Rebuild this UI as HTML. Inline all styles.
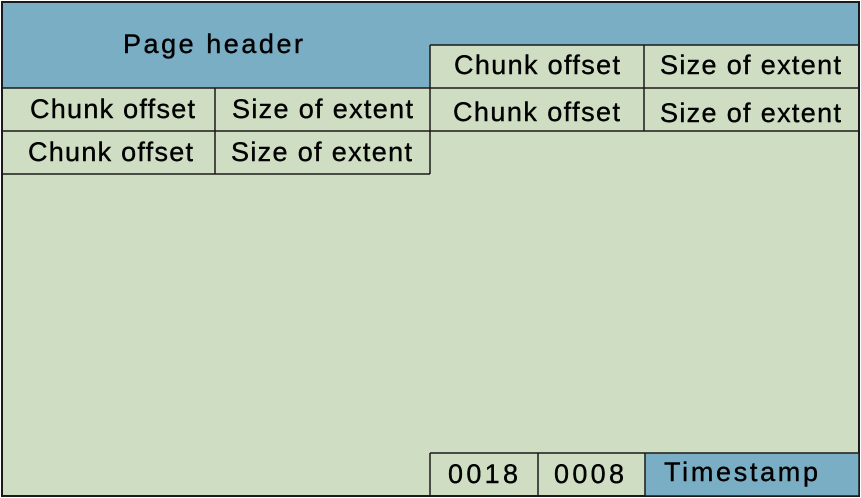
<!DOCTYPE html>
<html><head><style>
html,body{margin:0;padding:0;background:#fff;}
svg{display:block;}
text{font-family:"Liberation Sans",Arial,sans-serif;font-size:27px;fill:#000;stroke:#000;stroke-width:0.4;}
</style></head><body>
<svg width="861" height="498" viewBox="0 0 861 498" xmlns="http://www.w3.org/2000/svg">
<rect x="2" y="2" width="857" height="494" fill="#cfdec3" stroke="#1a1a1a" stroke-width="2"/>
<path d="M3 3 H858 V45 H430 V88 H3 Z" fill="#7aaec4"/>
<rect x="2" y="2" width="857" height="494" fill="none" stroke="#1a1a1a" stroke-width="2"/>
<text x="123" y="53" textLength="180" lengthAdjust="spacing">Page header</text>
<g fill="none" stroke="#1a1a1a" stroke-width="1.5">
<line x1="2" y1="88" x2="430" y2="88"/>
<line x1="2" y1="131" x2="430" y2="131"/>
<line x1="2" y1="174" x2="430" y2="174"/>
<line x1="215" y1="88" x2="215" y2="174"/>
<line x1="430" y1="45" x2="430" y2="174"/>
<line x1="430" y1="45" x2="859" y2="45"/>
<line x1="430" y1="88" x2="859" y2="88"/>
<line x1="430" y1="131" x2="859" y2="131"/>
<line x1="644" y1="45" x2="644" y2="131"/>
</g>
<rect x="645" y="453" width="214" height="43" fill="#7aaec4"/>
<g fill="none" stroke="#1a1a1a" stroke-width="1.5">
<line x1="430" y1="453" x2="859" y2="453"/>
<line x1="430" y1="453" x2="430" y2="496"/>
<line x1="538" y1="453" x2="538" y2="496"/>
<line x1="645" y1="453" x2="645" y2="496"/>
<line x1="2" y1="496" x2="859" y2="496"/>
<line x1="859" y1="2" x2="859" y2="496"/>
</g>
<text x="30" y="118" textLength="165" lengthAdjust="spacing">Chunk offset</text>
<text x="232" y="118" textLength="181" lengthAdjust="spacing">Size of extent</text>
<text x="28" y="161" textLength="165" lengthAdjust="spacing">Chunk offset</text>
<text x="231" y="161" textLength="181" lengthAdjust="spacing">Size of extent</text>
<text x="454" y="74" textLength="166" lengthAdjust="spacing">Chunk offset</text>
<text x="660" y="74" textLength="181" lengthAdjust="spacing">Size of extent</text>
<text x="453" y="121" textLength="167" lengthAdjust="spacing">Chunk offset</text>
<text x="660" y="122" textLength="181" lengthAdjust="spacing">Size of extent</text>
<text x="448" y="483" textLength="70" lengthAdjust="spacing">0018</text>
<text x="554" y="483" textLength="70" lengthAdjust="spacing">0008</text>
<text x="664" y="481" textLength="154" lengthAdjust="spacing">Timestamp</text>
</svg>
</body></html>
